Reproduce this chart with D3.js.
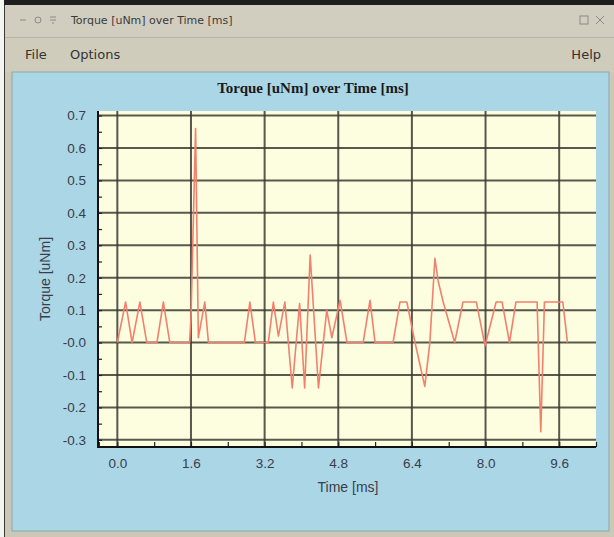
<!DOCTYPE html>
<html>
<head>
<meta charset="utf-8">
<script src="https://cdn.jsdelivr.net/npm/d3@7"></script>
<style>
  html, body { margin: 0; padding: 0; background: #ffffff; }
  svg { display: block; }
</style>
</head>
<body>
<svg id="win" width="614" height="537"></svg>
<script>
// ---- data -------------------------------------------------------------
const timeMs = [
  0.00, 0.18, 0.32, 0.49, 0.64, 0.86, 1.00, 1.14, 1.57, 1.60,
  1.70, 1.76, 1.90, 1.98, 2.76, 2.88, 3.00, 3.28, 3.39, 3.50,
  3.64, 3.80, 3.96, 4.07, 4.19, 4.37, 4.55, 4.66, 4.84, 4.99,
  5.34, 5.49, 5.60, 5.99, 6.14, 6.29, 6.46, 6.68, 6.79, 6.90,
  6.97, 7.08, 7.33, 7.51, 7.80, 7.99, 8.23, 8.36, 8.52, 8.66,
  9.12, 9.20, 9.28, 9.68, 9.78
];
const torque = [
  0.000, 0.125, 0.000, 0.125, 0.000, 0.000, 0.125, 0.000, 0.000, 0.075,
  0.660, 0.015, 0.125, 0.000, 0.000, 0.125, 0.000, 0.000, 0.125, 0.020,
  0.125, -0.140, 0.120, -0.140, 0.270, -0.140, 0.100, 0.015, 0.130, 0.000,
  0.000, 0.130, 0.000, 0.000, 0.125, 0.125, 0.005, -0.135, 0.000, 0.260,
  0.190, 0.125, 0.000, 0.125, 0.125, -0.010, 0.125, 0.125, 0.000, 0.125,
  0.125, -0.275, 0.125, 0.125, 0.000
];

const xTickValues = [0, 1.6, 3.2, 4.8, 6.4, 8.0, 9.6];
const xTickLabels = ["0.0", "1.6", "3.2", "4.8", "6.4", "8.0", "9.6"];
const xMinorTicks = [-0.4, 0, 0.8, 1.6, 2.4, 3.2, 4.0, 4.8, 5.6, 6.4, 7.2, 8.0, 8.8, 9.6, 10.4];
const yTickValues = [0.7, 0.6, 0.5, 0.4, 0.3, 0.2, 0.1, 0.0, -0.1, -0.2, -0.3];
const yTickLabels = ["0.7", "0.6", "0.5", "0.4", "0.3", "0.2", "0.1", "-0.0", "-0.1", "-0.2", "-0.3"];
const yMinorTicks = [0.7, 0.65, 0.6, 0.55, 0.5, 0.45, 0.4, 0.35, 0.3, 0.25, 0.2, 0.15, 0.1, 0.05, 0.0,
                     -0.05, -0.1, -0.15, -0.2, -0.25, -0.3];

const windowTitle = "Torque [uNm] over Time [ms]";
const chartTitle = "Torque [uNm] over Time [ms]";
const xAxisTitle = "Time [ms]";
const yAxisTitle = "Torque [uNm]";
const menuLeft = ["File", "Options"];
const menuRight = ["Help"];

// ---- window chrome ----------------------------------------------------
const svg = d3.select("#win");
const W = 614, H = 537;
const uiFont = "DejaVu Sans, Verdana, sans-serif";

svg.append("rect").attr("width", W).attr("height", H).attr("fill", "#ccc8b8");
svg.append("rect").attr("x", 0).attr("y", 0).attr("width", W).attr("height", 5).attr("fill", "#1e1e1e");
svg.append("rect").attr("x", 0).attr("y", 0).attr("width", 4).attr("height", H).attr("fill", "#f4f4f0");
svg.append("rect").attr("x", 4).attr("y", 5).attr("width", 1).attr("height", H).attr("fill", "#3a3a36");

// title bar
svg.append("rect").attr("x", 5).attr("y", 5).attr("width", W - 5).attr("height", 32).attr("fill", "#d2cebf");
svg.append("text").attr("x", 71).attr("y", 24)
  .attr("font-family", uiFont).attr("font-size", 11)
  .attr("fill", "#3a3a3a").text(windowTitle);
// window buttons
const btn = svg.append("g").attr("stroke", "#8c8a80").attr("fill", "none").attr("stroke-width", 1);
btn.append("line").attr("x1", 20).attr("x2", 26).attr("y1", 20).attr("y2", 20);
btn.append("circle").attr("cx", 38).attr("cy", 20).attr("r", 3);
btn.append("path").attr("d", "M50,17 L56,17 M50,20 L56,20 M52,23 L54,23");
btn.append("rect").attr("x", 580).attr("y", 16).attr("width", 8).attr("height", 8);
btn.append("path").attr("d", "M596,16 L604,24 M604,16 L596,24");

// menu bar
svg.append("rect").attr("x", 5).attr("y", 37).attr("width", W - 5).attr("height", 35).attr("fill", "#d0ccbc");
svg.append("line").attr("x1", 5).attr("x2", W).attr("y1", 37.5).attr("y2", 37.5).attr("stroke", "#b8b4a4");
svg.append("text").attr("x", 25).attr("y", 59).attr("font-family", uiFont).attr("font-size", 13)
  .attr("fill", "#333").text(menuLeft[0]);
svg.append("text").attr("x", 70).attr("y", 59).attr("font-family", uiFont).attr("font-size", 13)
  .attr("fill", "#333").text(menuLeft[1]);
svg.append("text").attr("x", 601).attr("y", 59).attr("text-anchor", "end").attr("font-family", uiFont)
  .attr("font-size", 13).attr("fill", "#333").text(menuRight[0]);

// blue client area
svg.append("rect").attr("x", 12).attr("y", 72).attr("width", 597).attr("height", 459)
  .attr("fill", "#aad6e6").attr("stroke", "#8fa4ac").attr("stroke-width", 1);

// ---- plot ---------------------------------------------------------------
const plot = { left: 98, right: 596, top: 111, bottom: 447 };
const x = d3.scaleLinear().domain([-0.42, 10.4]).range([plot.left, plot.right]);
const y = d3.scaleLinear().domain([-0.322, 0.714]).range([plot.bottom, plot.top]);

svg.append("rect").attr("x", plot.left).attr("y", plot.top)
  .attr("width", plot.right - plot.left).attr("height", plot.bottom - plot.top)
  .attr("fill", "#fdfde0");

// grid
const grid = svg.append("g").attr("stroke", "#3b3b33").attr("stroke-width", 2).attr("stroke-opacity", 0.85);
grid.selectAll("line.h").data(yTickValues).join("line").attr("class", "h")
  .attr("x1", plot.left).attr("x2", plot.right)
  .attr("y1", d => y(d)).attr("y2", d => y(d));
grid.selectAll("line.v").data(xTickValues).join("line").attr("class", "v")
  .attr("y1", plot.top).attr("y2", plot.bottom)
  .attr("x1", d => x(d)).attr("x2", d => x(d));

// minor ticks on axes (drawn inward)
const yAxisG = svg.append("g").attr("transform", `translate(${plot.left},0)`)
  .call(d3.axisRight(y).tickValues(yMinorTicks).tickSize(4).tickFormat(""));
yAxisG.select(".domain").remove();
yAxisG.selectAll("line").attr("stroke", "#222").attr("stroke-width", 1.2);

const xAxisG = svg.append("g").attr("transform", `translate(0,${plot.bottom})`)
  .call(d3.axisTop(x).tickValues(xMinorTicks).tickSize(5).tickFormat(""));
xAxisG.select(".domain").remove();
xAxisG.selectAll("line").attr("stroke", "#222").attr("stroke-width", 1.2);

// axis lines
svg.append("line").attr("x1", plot.left).attr("x2", plot.left).attr("y1", plot.top).attr("y2", plot.bottom + 1)
  .attr("stroke", "#111").attr("stroke-width", 2);
svg.append("line").attr("x1", plot.left - 1).attr("x2", plot.right).attr("y1", plot.bottom).attr("y2", plot.bottom)
  .attr("stroke", "#111").attr("stroke-width", 2);

// tick labels
const labelFont = "Liberation Sans, Arial, sans-serif";
const labelColor = "#3a3d4a";
const yLab = svg.append("g").attr("transform", `translate(${plot.left - 9},0)`)
  .call(d3.axisLeft(y).tickValues(yTickValues).tickSize(0)
    .tickFormat((d, i) => yTickLabels[i]));
yLab.select(".domain").remove();
yLab.selectAll("text").attr("font-family", labelFont).attr("font-size", 13.5).attr("fill", labelColor);

const xLab = svg.append("g").attr("transform", `translate(0,${plot.bottom + 8})`)
  .call(d3.axisBottom(x).tickValues(xTickValues).tickSize(0)
    .tickFormat((d, i) => xTickLabels[i]));
xLab.select(".domain").remove();
xLab.selectAll("text").attr("font-family", labelFont).attr("font-size", 13.5).attr("fill", labelColor);

// titles
svg.append("text").attr("x", 313).attr("y", 93).attr("text-anchor", "middle")
  .attr("font-family", "Liberation Serif, Times New Roman, serif").attr("font-weight", "bold")
  .attr("font-size", 15).attr("fill", "#1a1a1a").text(chartTitle);
svg.append("text").attr("x", 348).attr("y", 492).attr("text-anchor", "middle")
  .attr("font-family", labelFont).attr("font-size", 14).attr("fill", labelColor).text(xAxisTitle);
svg.append("text").attr("transform", "translate(50,279) rotate(-90)").attr("text-anchor", "middle")
  .attr("font-family", labelFont).attr("font-size", 14).attr("fill", labelColor).text(yAxisTitle);

// torque trace
const pts = timeMs.map((t, i) => [t, torque[i]]);
svg.append("path").datum(pts)
  .attr("fill", "none").attr("stroke", "#f2806e").attr("stroke-width", 1.6)
  .attr("stroke-linejoin", "round")
  .attr("d", d3.line().x(d => x(d[0])).y(d => y(d[1])));
</script>
</body>
</html>
